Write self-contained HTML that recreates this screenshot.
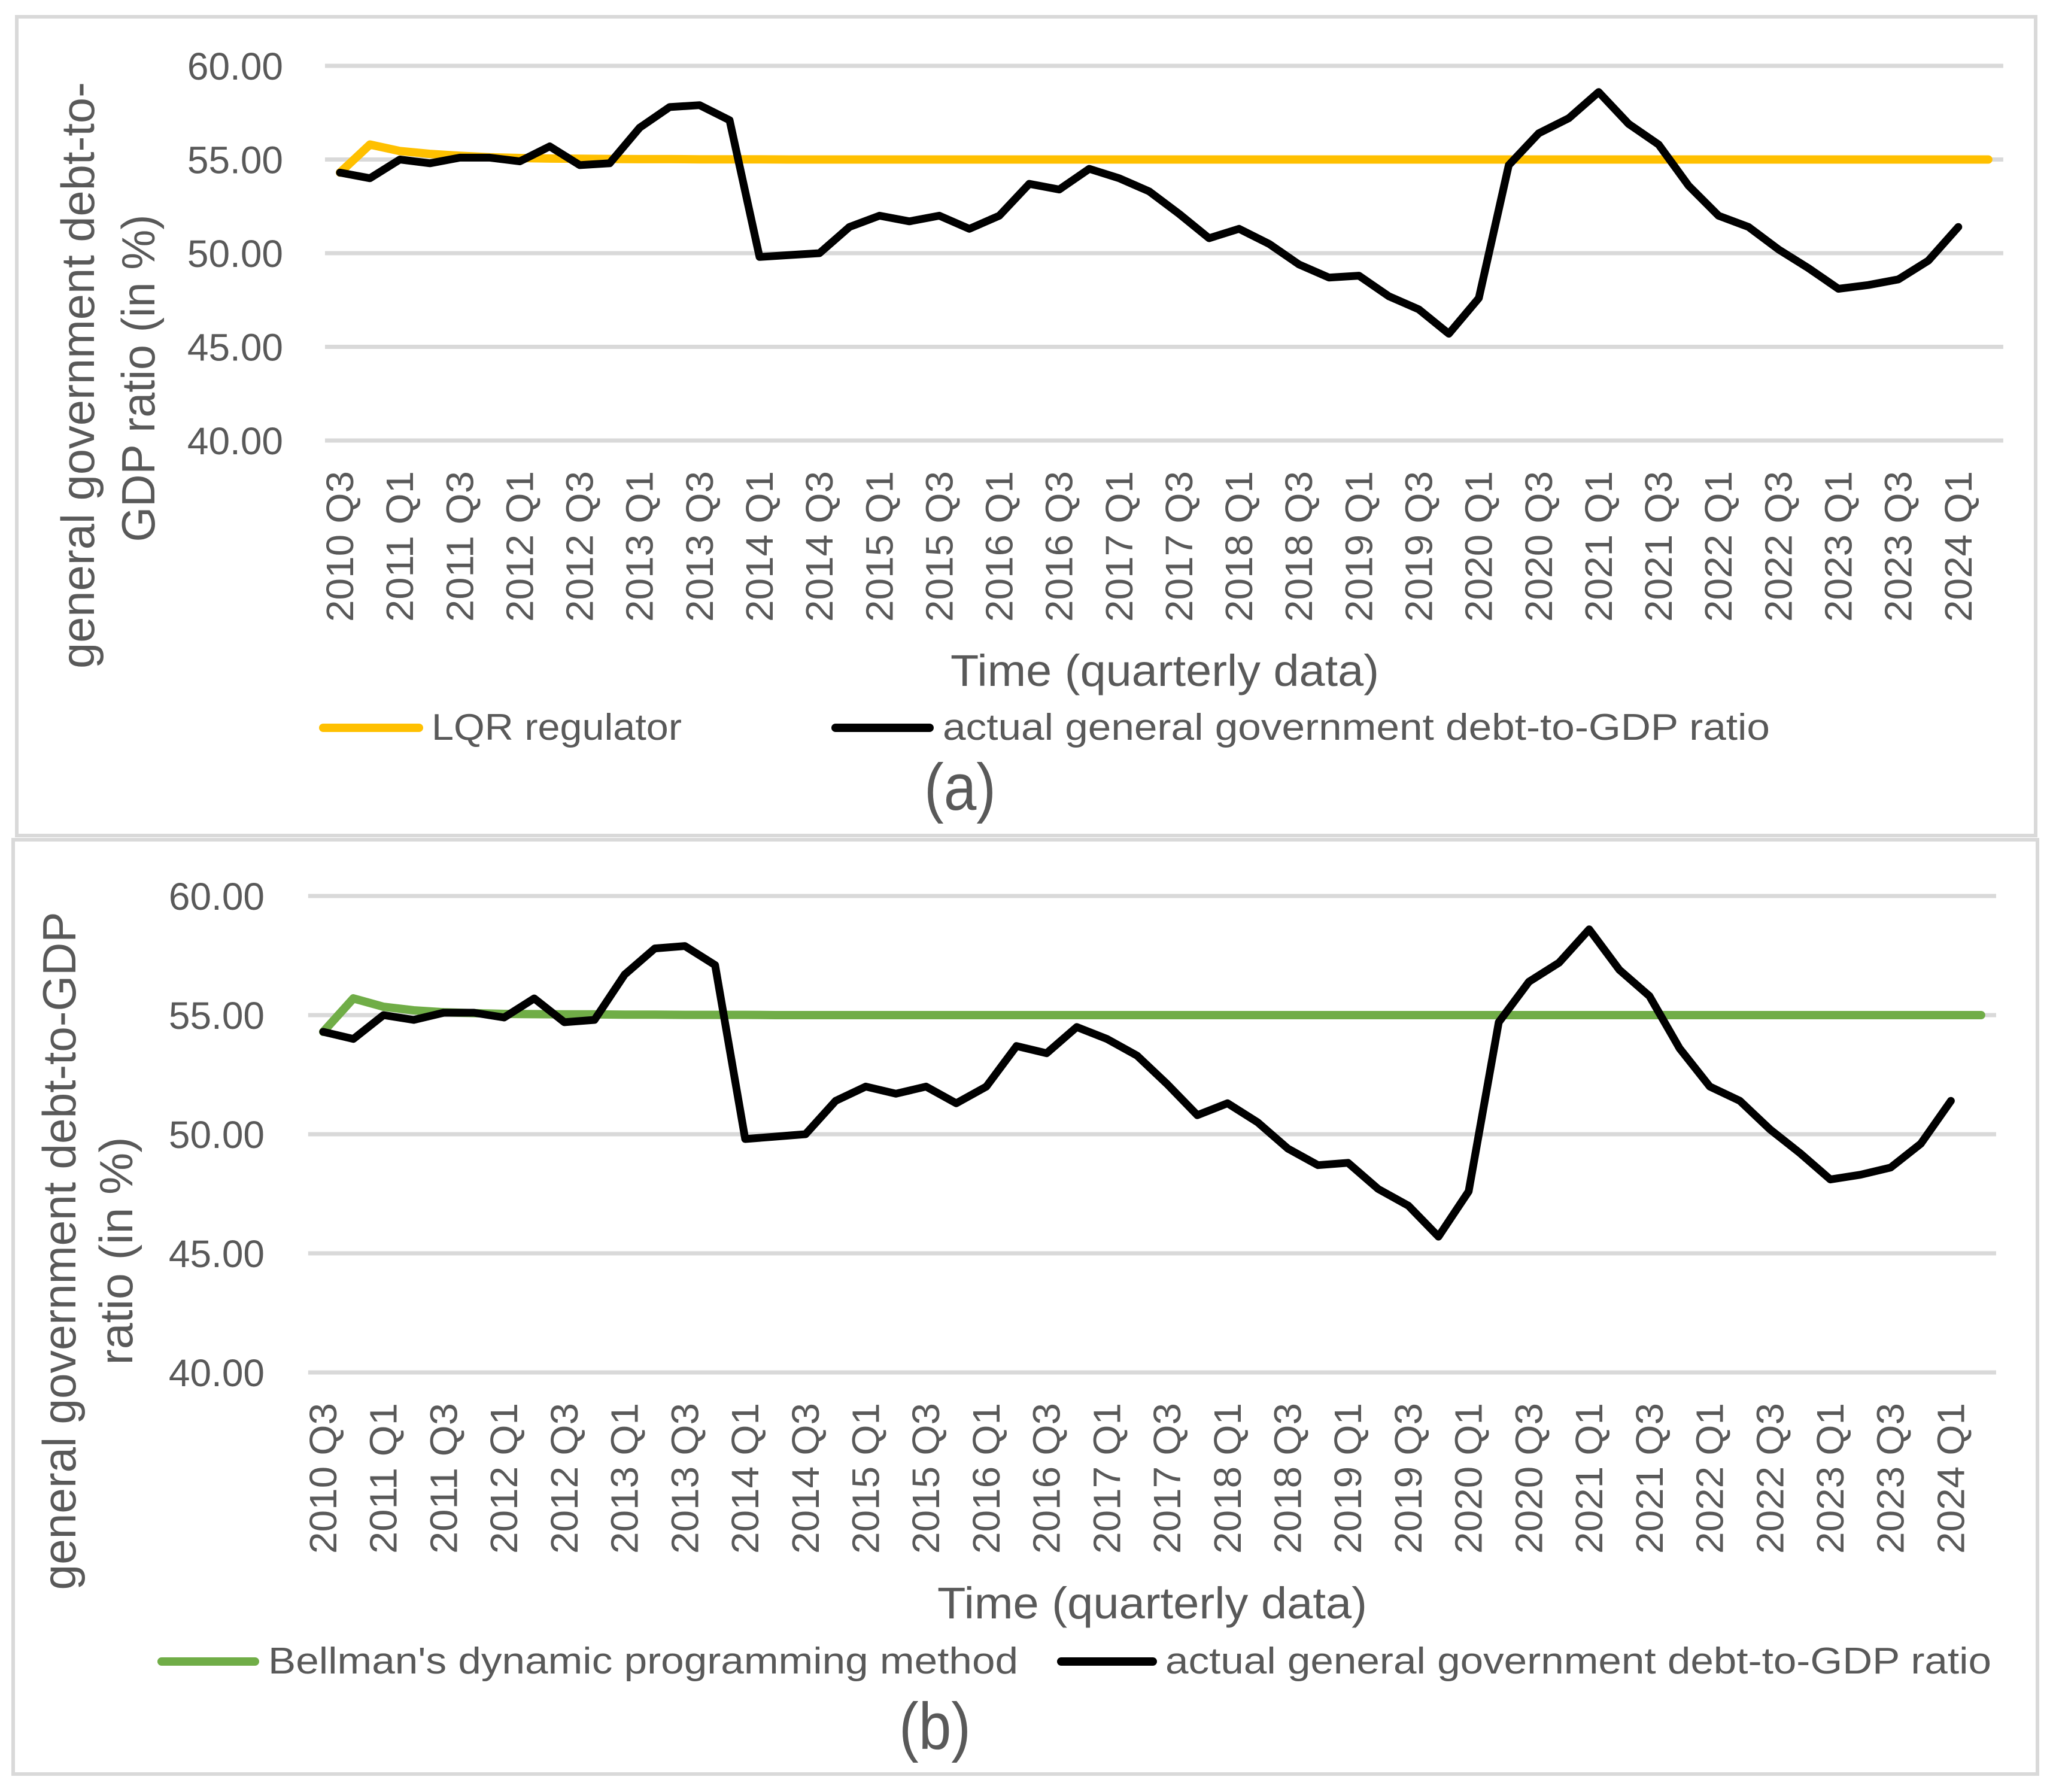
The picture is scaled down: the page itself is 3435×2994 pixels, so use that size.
<!DOCTYPE html>
<html><head><meta charset="utf-8"><style>
html,body{margin:0;padding:0;background:#fff}
svg{display:block}
text{font-family:"Liberation Sans",sans-serif;fill:#595959}
</style></head><body>
<svg id="svg" width="3435" height="2994" viewBox="0 0 3435 2994" xmlns="http://www.w3.org/2000/svg">
<rect x="0" y="0" width="3435" height="2994" fill="#fff"/>
<rect x="28" y="28" width="3373" height="1368" fill="none" stroke="#d9d9d9" stroke-width="6"/>
<rect x="22" y="1403" width="3382" height="1561" fill="none" stroke="#d9d9d9" stroke-width="6"/>
<g id="chartA"></g>
<g id="chartB"></g>
</svg>
<script>
const yTicks = [40, 45, 50, 55, 60];
const yTickLabels = ["40.00","45.00","50.00","55.00","60.00"];
const categories = ["2010 Q3","2010 Q4","2011 Q1","2011 Q2","2011 Q3","2011 Q4","2012 Q1","2012 Q2","2012 Q3","2012 Q4","2013 Q1","2013 Q2","2013 Q3","2013 Q4","2014 Q1","2014 Q2","2014 Q3","2014 Q4","2015 Q1","2015 Q2","2015 Q3","2015 Q4","2016 Q1","2016 Q2","2016 Q3","2016 Q4","2017 Q1","2017 Q2","2017 Q3","2017 Q4","2018 Q1","2018 Q2","2018 Q3","2018 Q4","2019 Q1","2019 Q2","2019 Q3","2019 Q4","2020 Q1","2020 Q2","2020 Q3","2020 Q4","2021 Q1","2021 Q2","2021 Q3","2021 Q4","2022 Q1","2022 Q2","2022 Q3","2022 Q4","2023 Q1","2023 Q2","2023 Q3","2023 Q4","2024 Q1","2024 Q2"];
const actualDebt = [54.3,54.0,55.0,54.8,55.1,55.1,54.9,55.7,54.7,54.8,56.7,57.8,57.9,57.1,49.8,49.9,50.0,51.4,52.0,51.7,52.0,51.3,52.0,53.7,53.4,54.5,54.0,53.3,52.1,50.8,51.3,50.5,49.4,48.7,48.8,47.7,47.0,45.7,47.6,54.7,56.4,57.2,58.6,56.9,55.8,53.6,52.0,51.4,50.2,49.2,48.1,48.3,48.6,49.6,51.4];
const lqrValues = [54.3,55.8,55.45,55.3,55.2,55.12,55.08,55.05,55.04,55.03,55.02,55.02,55.01,55.01,55.01,55.0,55.0,55.0,55.0,55.0,55.0,55.0,55.0,55.0,55.0,55.0,55.0,55.0,55.0,55.0,55.0,55.0,55.0,55.0,55.0,55.0,55.0,55.0,55.0,55.0,55.0,55.0,55.0,55.0,55.0,55.0,55.0,55.0,55.0,55.0,55.0,55.0,55.0,55.0,55.0,55.0];
const bellmanValues = [54.3,55.7,55.35,55.2,55.12,55.08,55.05,55.04,55.03,55.03,55.02,55.02,55.01,55.01,55.01,55.0,55.0,55.0,55.0,55.0,55.0,55.0,55.0,55.0,55.0,55.0,55.0,55.0,55.0,55.0,55.0,55.0,55.0,55.0,55.0,55.0,55.0,55.0,55.0,55.0,55.0,55.0,55.0,55.0,55.0,55.0,55.0,55.0,55.0,55.0,55.0,55.0,55.0,55.0,55.0,55.0];

const NS = "http://www.w3.org/2000/svg";
function mk(parent, tag, attrs, txt){
  const e = document.createElementNS(NS, tag);
  for (const k in attrs) e.setAttribute(k, attrs[k]);
  if (txt !== undefined) e.textContent = txt;
  parent.appendChild(e);
  return e;
}

function drawChart(g, c){
  const yScale = v => c.y40 + (v - 40) * (c.y60 - c.y40) / 20;
  const xScale = i => c.x0 + i * c.band;
  const gridRight = c.x0 - c.band/2 + 56*c.band;
  yTicks.forEach((t, i) => {
    const ln = mk(g, "line", {x1:c.x0 - c.band/2, x2:gridRight, y1:yScale(t), y2:yScale(t), stroke:"#d9d9d9", "stroke-width":7});
    
    
    const tx = mk(g, "text", {x:c.yLabelRight, y:yScale(t)+23, "text-anchor":"end", "font-size":64}, yTickLabels[i]);
    
    
  });
  categories.forEach((cat, i) => {
    if (i % 2 !== 0 || i > 54) return;
    const x = xScale(i);
    const tx = mk(g, "text", {x:0, y:0, transform:`translate(${x+22},${c.xLabelTop}) rotate(-90)`, "text-anchor":"end", "font-size":64, textLength:252, lengthAdjust:"spacingAndGlyphs"}, cat);
    
    
  });
  const pts = arr => arr.map((v, i) => xScale(i).toFixed(1) + "," + yScale(v).toFixed(1)).join(" ");
  const m = mk(g, "polyline", {points:pts(c.model), fill:"none", stroke:c.color, "stroke-width":14, "stroke-linejoin":"round", "stroke-linecap":"round"});
  
  
  const a = mk(g, "polyline", {points:pts(actualDebt), fill:"none", stroke:"#000", "stroke-width":13, "stroke-linejoin":"round", "stroke-linecap":"round"});
  
  
  c.yTitle.forEach(t => {
    const tx = mk(g, "text", {x:0, y:0, transform:`translate(${t.x},${t.cy}) rotate(-90)`, "text-anchor":"middle", "font-size":t.fs, textLength:t.len, lengthAdjust:"spacingAndGlyphs"}, t.s);
    
    
  });
  const xt = mk(g, "text", {x:c.xt.x, y:c.xt.y, "font-size":74, textLength:c.xt.len, lengthAdjust:"spacingAndGlyphs"}, "Time (quarterly data)");
  
  
  const l1 = mk(g, "line", {x1:c.lg.m1, x2:c.lg.m2, y1:c.lg.y, y2:c.lg.y, stroke:c.color, "stroke-width":14, "stroke-linecap":"round"});
  
  
  const t1 = mk(g, "text", {x:c.lg.mt, y:c.lg.ty, "font-size":62, textLength:c.lg.mlen, lengthAdjust:"spacingAndGlyphs"}, c.lg.mlabel);
  
  
  const l2 = mk(g, "line", {x1:c.lg.a1, x2:c.lg.a2, y1:c.lg.y, y2:c.lg.y, stroke:"#000", "stroke-width":14, "stroke-linecap":"round"});
  
  
  const t2 = mk(g, "text", {x:c.lg.at, y:c.lg.ty, "font-size":62, textLength:c.lg.alen, lengthAdjust:"spacingAndGlyphs"}, "actual general government debt-to-GDP ratio");
  
  
  const p = mk(g, "text", {x:c.panel.x, y:c.panel.y, "text-anchor":"middle", "font-size":110, textLength:120, lengthAdjust:"spacingAndGlyphs"}, c.panel.s);
  
  
}

drawChart(document.getElementById("chartA"), {
  x0:568, band:50.07, y60:110, y40:736, yLabelRight:473, xLabelTop:787,
  model:lqrValues, color:"#FFC000", modelName:"lqr-regulator",
  yTitle:[{s:"general government debt-to-", x:157, cy:627, len:980, fs:78},{s:"GDP ratio  (in %)", x:258, cy:632, len:547, fs:78}],
  xt:{x:1588, y:1146, len:716},
  lg:{y:1216, ty:1236, m1:540, m2:700, mt:721, mlen:418, mlabel:"LQR regulator", a1:1396, a2:1553, at:1575, alen:1382},
  panel:{x:1604, y:1353, s:"(a)"}
});
drawChart(document.getElementById("chartB"), {
  x0:540, band:50.36, y60:1497, y40:2293, yLabelRight:442, xLabelTop:2344,
  model:bellmanValues, color:"#70AD47", modelName:"bellman",
  yTitle:[{s:"general government debt-to-GDP", x:126, cy:2090, len:1133, fs:78},{s:"ratio  (in %)", x:221, cy:2090, len:381, fs:78}],
  xt:{x:1566, y:2704, len:718},
  lg:{y:2776, ty:2796, m1:270, m2:426, mt:448, mlen:1253, mlabel:"Bellman's dynamic programming method", a1:1773, a2:1926, at:1947, alen:1380},
  panel:{x:1562, y:2922, s:"(b)"}
});
</script>
</body></html>
